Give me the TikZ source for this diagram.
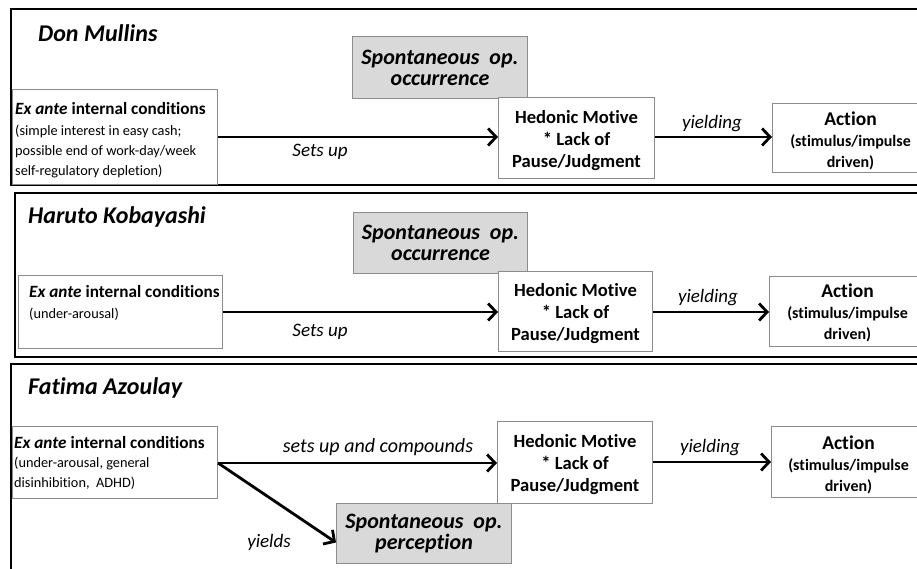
\documentclass[tikz,border=0pt]{standalone}
\usepackage{fontspec}
\setmainfont{Carlito}[Ligatures={NoCommon}]
\usetikzlibrary{arrows.meta}
\newcommand\exheadfont{\fontsize{17.2}{20}\selectfont\bfseries}
\newcommand\actheadfont{\fontsize{19.5}{22}\selectfont}
\begin{document}
\begin{tikzpicture}[x=1pt,y=-1pt,
  panel/.style={draw=black,line width=2pt},
  wbox/.style={draw=black!45,line width=1pt,fill=white,inner sep=0pt,anchor=north west},
  gbox/.style={draw=black!45,line width=1pt,fill=black!15,inner sep=0pt,anchor=north west,align=center,
    font=\fontsize{22}{21}\selectfont\bfseries\itshape},
  hedtxt/.style={inner sep=0pt,align=center,font=\fontsize{18.6}{22}\selectfont\bfseries},
  acttxt/.style={inner sep=0pt,align=center,font=\fontsize{16}{21}\selectfont\bfseries},
  title/.style={anchor=west,inner sep=0pt,font=\fontsize{24}{27}\selectfont\bfseries\itshape},
  extxt/.style={anchor=north west,inner sep=0pt,align=left,font=\fontsize{14.3}{20}\selectfont},
  flow/.style={line width=2.8pt,-{Straight Barb[length=8pt,width=17pt]}},
  lab/.style={inner sep=0pt,font=\fontsize{19}{20}\selectfont\itshape},
]
\useasboundingbox (0,0) rectangle (917,569);
\clip (0,0) rectangle (917,569);
\fill[white] (0,0) rectangle (917,569);

% ---------- Panel 1 ----------
\draw[panel] (11,9) rectangle (940,185);
\node[title] (t1) at (38,33) {Don Mullins};
\node[gbox,minimum width=175pt,minimum height=62pt] (g1) at (352,36) {Spontaneous\ \ op.\\occurrence};
\node[wbox,minimum width=205pt,minimum height=95pt] (e1) at (12,89) {};
\node[extxt] (e1t) at (15,102) {{\exheadfont\textit{Ex ante} internal conditions}\\[1pt](simple interest in easy cash;\\possible end of work-day/week\\self-regulatory depletion)};
\node[wbox,minimum width=156pt,minimum height=81pt] (h1) at (498,97) {};
\node[hedtxt] (h1t) at ([yshift=-2.5pt]h1.center) {Hedonic Motive\\* Lack of\\Pause/Judgment};
\node[wbox,minimum width=156pt,minimum height=69pt] (a1) at (772,103) {};
\node[acttxt] (a1t) at ([yshift=-2.5pt]a1.center) {{\actheadfont Action}\\(stimulus/impulse\\driven)};
\draw[flow] (e1.east) -- (e1.east -| h1.west);
\draw[flow] (h1.east |- e1.east) -- (h1.east |- e1.east -| a1.west);
\node[lab] (l1) at (320,152) {Sets up};
\node[lab] (y1) at (712,124) {yielding};

% ---------- Panel 2 ----------
\draw[panel] (15,193) rectangle (940,357);
\node[title] (t2) at (28,217) {Haruto Kobayashi};
\node[gbox,minimum width=174pt,minimum height=61pt] (g2) at (353,212) {Spontaneous\ \ op.\\occurrence};
\node[wbox,minimum width=204pt,minimum height=73pt] (e2) at (18,275) {};
\node[extxt] (e2t) at (29,285) {{\exheadfont\textit{Ex ante} internal conditions}\\[1pt](under-arousal)};
\node[wbox,minimum width=154pt,minimum height=80pt] (h2) at (498,271) {};
\node[hedtxt] (h2t) at ([yshift=-2.5pt]h2.center) {Hedonic Motive\\* Lack of\\Pause/Judgment};
\node[wbox,minimum width=156pt,minimum height=70pt] (a2) at (769,276) {};
\node[acttxt] (a2t) at ([yshift=-1.5pt]a2.center) {{\actheadfont Action}\\(stimulus/impulse\\driven)};
\draw[flow] (e2.east) -- (e2.east -| h2.west);
\draw[flow] (h2.east |- e2.east) -- (h2.east |- e2.east -| a2.west);
\node[lab] (l2) at (320,332) {Sets up};
\node[lab] (y2) at (708,298) {yielding};

% ---------- Panel 3 ----------
\draw[panel] (11,364) rectangle (940,620);
\node[title] (t3) at (28,388) {Fatima Azoulay};
\node[wbox,minimum width=205pt,minimum height=72pt] (e3) at (12,426) {};
\node[extxt] (e3t) at (14,436) {{\exheadfont\textit{Ex ante} internal conditions}\\[-1pt](under-arousal, general\\disinhibition,\ \ ADHD)};
\node[gbox,minimum width=175pt,minimum height=60pt] (g3) at (336,503) {Spontaneous\ \ op.\\perception};
\node[wbox,minimum width=155pt,minimum height=82pt] (h3) at (497,421) {};
\node[hedtxt] (h3t) at ([yshift=-2.5pt]h3.center) {Hedonic Motive\\* Lack of\\Pause/Judgment};
\node[wbox,minimum width=154pt,minimum height=71pt] (a3) at (771,426) {};
\node[acttxt] (a3t) at ([yshift=-2.5pt]a3.center) {{\actheadfont Action}\\(stimulus/impulse\\driven)};
\coordinate (s3) at ([yshift=-0.5pt]e3.east);
\draw[flow] (s3) -- (s3 -| h3.west);
\draw[flow] (s3) -- ([yshift=-9pt]g3.west);
\draw[flow] (h3.east |- a3.west) -- (a3.west);
\node[lab,font=\fontsize{20}{20}\selectfont\itshape] (l3) at (378,447) {sets up and compounds};
\node[lab] (y3) at (269,542) {yields};
\node[lab] (yy3) at (710,448) {yielding};
\end{tikzpicture}
\end{document}
